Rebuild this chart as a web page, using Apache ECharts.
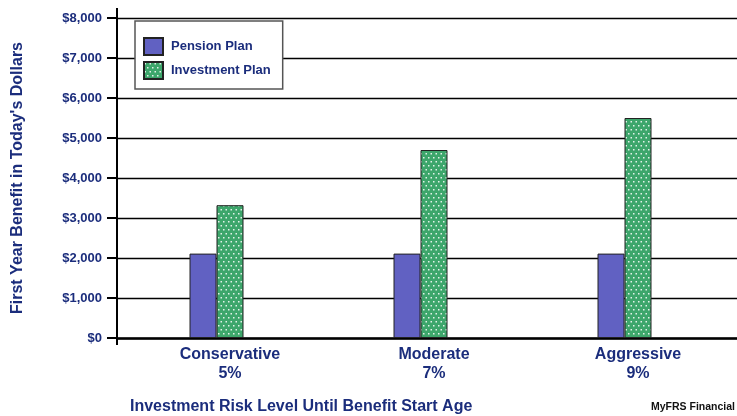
<!DOCTYPE html>
<html>
<head>
<meta charset="utf-8">
<script src="https://cdn.jsdelivr.net/npm/echarts@6/dist/echarts.min.js"></script>
<style>
  html, body { margin: 0; padding: 0; background: #fff; }
  #chart { width: 737px; height: 416px; }
</style>
</head>
<body>
<div id="chart"></div>
<script>
// Benefit comparison by investment risk level
const categories = ['Conservative\n5%', 'Moderate\n7%', 'Aggressive\n9%'];
const pensionPlan = [2110, 2110, 2110];
const investmentPlan = [3320, 4700, 5500];
const yTicks = [0, 1000, 2000, 3000, 4000, 5000, 6000, 7000, 8000];

const NAVY = '#1B2D7C';
const FONT = '"Liberation Sans", Arial, sans-serif';

// dotted fill for the investment bars
function dotPattern() {
  const c = document.createElement('canvas');
  c.width = 5; c.height = 8;
  const g = c.getContext('2d');
  g.fillStyle = '#3DA66B';
  g.fillRect(0, 0, 5, 8);
  g.fillStyle = 'rgba(255,255,255,0.85)';
  g.fillRect(0.5, 1, 1.5, 1.5);
  g.fillRect(3, 5, 1.5, 1.5);
  return c;
}
const investFill = { image: dotPattern(), repeat: 'repeat' };

const chart = echarts.init(document.getElementById('chart'), null, { renderer: 'canvas' });

const yMin = yTicks[0], yMax = yTicks[yTicks.length - 1];
const yStep = yTicks[1] - yTicks[0];

chart.setOption({
  animation: false,
  backgroundColor: '#fff',
  textStyle: { fontFamily: FONT },
  title: [
    {
      text: 'Investment Risk Level Until Benefit Start Age',
      left: 125, top: 394,
      textStyle: { fontFamily: FONT, fontSize: 16, fontWeight: 'bold', color: NAVY }
    },
    {
      text: 'MyFRS Financial',
      right: -3, top: 397,
      textStyle: { fontFamily: FONT, fontSize: 10.5, fontWeight: 'bold', color: '#111' }
    }
  ],
  legend: {
    data: ['Pension Plan', 'Investment Plan'],
    orient: 'vertical',
    left: 135, top: 21,
    padding: [16, 12, 9, 8],
    itemWidth: 19, itemHeight: 17, itemGap: 5,
    icon: 'rect',
    backgroundColor: '#fff',
    borderColor: '#555', borderWidth: 1.5,
    textStyle: { fontFamily: FONT, fontSize: 13, fontWeight: 'bold', color: NAVY, padding: [0, 0, 0, 3], lineHeight: 16 }
  },
  grid: [
    { left: 117, right: 0, top: 18, bottom: 78, outerBoundsMode: 'none', containLabel: false },
    { left: 128, width: 612, top: 18, bottom: 78, outerBoundsMode: 'none', containLabel: false }
  ],
  xAxis: [
    {
      gridIndex: 0, type: 'category', data: categories,
      axisLine: { show: true, lineStyle: { color: '#000', width: 2.5 } },
      axisTick: { show: false }, axisLabel: { show: false }, splitLine: { show: false }
    },
    {
      gridIndex: 1, type: 'category', data: categories,
      axisLine: { show: false }, axisTick: { show: false },
      axisLabel: {
        margin: 7, fontFamily: FONT, fontSize: 16, fontWeight: 'bold',
        color: NAVY, lineHeight: 19, align: 'center'
      }
    }
  ],
  yAxis: [
    {
      gridIndex: 0, type: 'value', min: yMin, max: yMax, interval: yStep,
      name: "First Year Benefit in Today's Dollars",
      nameLocation: 'middle', nameRotate: 90, nameGap: 91,
      nameTextStyle: { fontFamily: FONT, fontSize: 16, fontWeight: 'bold', color: NAVY },
      axisLine: { show: true, lineStyle: { color: '#000', width: 2 } },
      axisTick: { show: true, length: 10, lineStyle: { color: '#000', width: 2 } },
      axisLabel: {
        margin: 15, fontFamily: FONT, fontSize: 13, fontWeight: 'bold', color: NAVY,
        formatter: v => '$' + v.toLocaleString('en-US')
      },
      splitLine: { show: true, lineStyle: { color: '#000', width: 1.3 } }
    },
    {
      gridIndex: 1, type: 'value', min: yMin, max: yMax, interval: yStep,
      show: false, splitLine: { show: false }
    }
  ],
  series: [
    {
      name: 'Pension Plan', type: 'bar', xAxisIndex: 1, yAxisIndex: 1,
      data: pensionPlan, barWidth: 27, barGap: '0%',
      itemStyle: { color: '#6161C2', borderColor: '#222', borderWidth: 1 }
    },
    {
      name: 'Investment Plan', type: 'bar', xAxisIndex: 1, yAxisIndex: 1,
      data: investmentPlan, barWidth: 27, barGap: '0%',
      itemStyle: { color: investFill, borderColor: '#222', borderWidth: 1 }
    },
    {
      // empty third slot keeps the pair left of each category centre
      name: 'spacer', type: 'bar', xAxisIndex: 1, yAxisIndex: 1,
      data: categories.map(() => '-'), barWidth: 27, barGap: '0%',
      itemStyle: { color: 'transparent' }, silent: true
    }
  ]
});

// extend the vertical axis line slightly past the top and bottom ticks
const topPx = chart.convertToPixel({ yAxisIndex: 0 }, yMax);
const botPx = chart.convertToPixel({ yAxisIndex: 0 }, yMin);
const gridRect = chart.getModel().getComponent('grid', 0).coordinateSystem.getRect();
chart.setOption({
  graphic: [
    {
      type: 'line', z: 10,
      shape: { x1: gridRect.x, y1: topPx - 10, x2: gridRect.x, y2: botPx + 7 },
      style: { stroke: '#000', lineWidth: 2 }
    }
  ]
});
</script>
</body>
</html>
